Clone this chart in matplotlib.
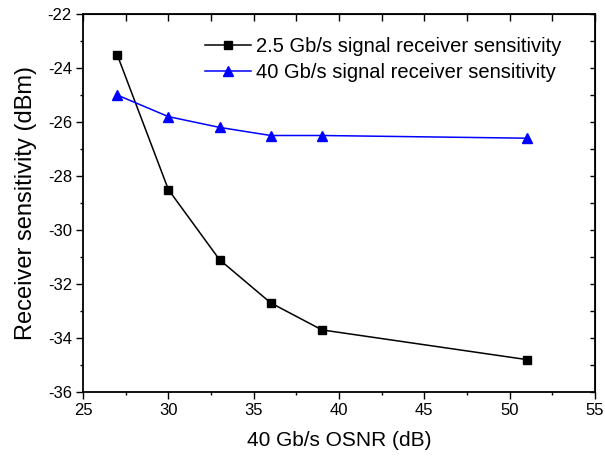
import matplotlib.pyplot as plt
from matplotlib.ticker import MultipleLocator

plt.rcParams['font.family'] = ['Liberation Sans', 'DejaVu Sans']
plt.rcParams['axes.unicode_minus'] = False

osnr = [27, 30, 33, 36, 39, 51]
sens_25g = [-23.5, -28.5, -31.1, -32.7, -33.7, -34.8]
sens_40g = [-25.0, -25.8, -26.2, -26.5, -26.5, -26.6]

fig = plt.figure(figsize=(6.05, 4.61), dpi=100)
ax = fig.add_axes([83 / 605, 1 - 392 / 461, (595 - 83) / 605, (392 - 14) / 461])

ax.plot(osnr, sens_25g, color='black', marker='s', markersize=6, linewidth=1.1,
        label='2.5 Gb/s signal receiver sensitivity')
ax.plot(osnr, sens_40g, color='blue', marker='^', markersize=7.5, linewidth=1.1,
        label='40 Gb/s signal receiver sensitivity')

ax.set_xlim(25, 55)
ax.set_ylim(-36, -22)
ax.xaxis.set_major_locator(MultipleLocator(5))
ax.xaxis.set_minor_locator(MultipleLocator(2.5))
ax.yaxis.set_major_locator(MultipleLocator(2))
ax.yaxis.set_minor_locator(MultipleLocator(1))

ax.tick_params(which='both', labelsize=12, width=1, color='black')
ax.tick_params(which='major', length=5, pad=3)
ax.tick_params(which='minor', length=2.5)
for sp in ax.spines.values():
    sp.set_linewidth(1.3)

# mirrored ticks on top and right, pointing inward
top = ax.secondary_xaxis('top')
top.xaxis.set_major_locator(MultipleLocator(5))
top.xaxis.set_minor_locator(MultipleLocator(2.5))
top.tick_params(which='both', direction='in', labeltop=False, length=5, width=1)
right = ax.secondary_yaxis('right')
right.yaxis.set_major_locator(MultipleLocator(2))
right.yaxis.set_minor_locator(MultipleLocator(1))
right.tick_params(which='both', direction='in', labelright=False, length=3.5, width=1)

ax.set_xlabel('40 Gb/s OSNR (dB)', fontsize=15, labelpad=9)
ax.set_ylabel('Receiver sensitivity (dBm)', fontsize=17, labelpad=8)

ax.legend(loc='upper left', bbox_to_anchor=((205 - 83) / 512, (392 - 37) / 378),
          frameon=False, fontsize=14.5, borderpad=0, borderaxespad=0,
          handlelength=2.3, handletextpad=0.25, labelspacing=0.35)

fig.savefig('out.png', dpi=100)
